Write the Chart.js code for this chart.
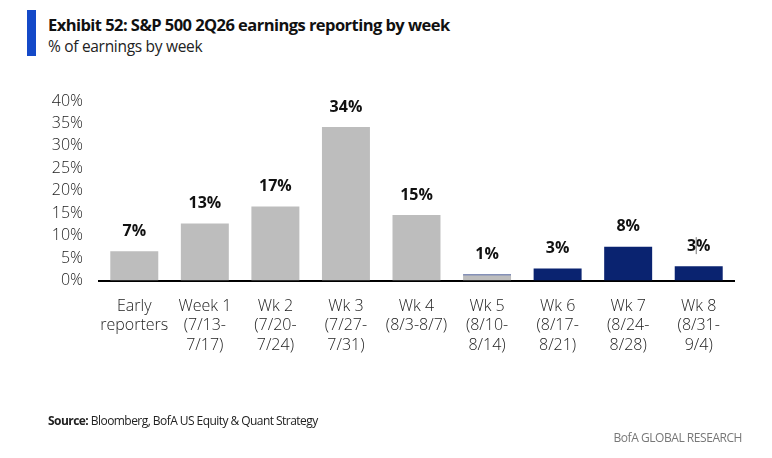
<!DOCTYPE html>
<html>
<head>
<meta charset="utf-8">
<script src="https://cdn.jsdelivr.net/npm/chart.js@4.4.0/dist/chart.umd.min.js"></script>
<style>
  html, body { margin: 0; padding: 0; background: #fff; }
  #wrap { position: relative; width: 772px; height: 458px; overflow: hidden; font-family: 'Open Sans', sans-serif; }
  #accent { position: absolute; left: 27px; top: 10px; width: 9px; height: 46px; background: #1449C8; }
  #title { position: absolute; left: 48px; top: 13px; font-size: 16.5px; font-weight: 700; color: #111; white-space: nowrap; letter-spacing: -0.55px; }
  #subtitle { position: absolute; left: 48px; top: 35px; font-size: 15.5px; font-weight: 400; color: #222; white-space: nowrap; letter-spacing: -0.3px; }
  #source { position: absolute; left: 48px; top: 412px; font-size: 12px; color: #222; white-space: nowrap; letter-spacing: -0.55px; }
  #source b { font-weight: 700; }
  #brand { position: absolute; right: 30px; top: 429px; font-size: 12px; color: #777; white-space: nowrap; letter-spacing: -0.45px; }
  #chart { position: absolute; left: 0; top: 0; }
</style>
</head>
<body>
<div id="wrap">
  <div id="accent"></div>
  <div id="title">Exhibit 52: S&amp;P 500 2Q26 earnings reporting by week</div>
  <div id="subtitle">% of earnings by week</div>
  <canvas id="chart" width="772" height="458"></canvas>
  <div id="source"><b>Source:</b> Bloomberg, BofA US Equity &amp; Quant Strategy</div>
  <div id="brand">BofA GLOBAL RESEARCH</div>
</div>
<script>
const categories = [
  ['Early', 'reporters'],
  ['Week 1', '(7/13-', '7/17)'],
  ['Wk 2', '(7/20-', '7/24)'],
  ['Wk 3', '(7/27-', '7/31)'],
  ['Wk 4', '(8/3-8/7)'],
  ['Wk 5', '(8/10-', '8/14)'],
  ['Wk 6', '(8/17-', '8/21)'],
  ['Wk 7', '(8/24-', '8/28)'],
  ['Wk 8', '(8/31-', '9/4)']
];
const reportedValues = [6.5, 12.7, 16.5, 34.2, 14.6, 1.1, 0, 0, 0];
const upcomingValues = [0, 0, 0, 0, 0, 0.25, 2.7, 7.5, 3.2];
const valueLabels = ['7%', '13%', '17%', '34%', '15%', '1%', '3%', '8%', '3%'];
const yTicks = [0, 5, 10, 15, 20, 25, 30, 35, 40];

const labelPlugin = {
  id: 'valueLabels',
  afterDatasetsDraw(chart) {
    const ctx = chart.ctx;
    const x = chart.scales.x, y = chart.scales.y;
    ctx.save();
    ctx.font = "700 16px 'Open Sans', sans-serif";
    ctx.fillStyle = '#111';
    ctx.textAlign = 'center';
    ctx.textBaseline = 'middle';
    valueLabels.forEach((t, i) => {
      const total = reportedValues[i] + upcomingValues[i];
      const px = x.getPixelForValue(i);
      const py = y.getPixelForValue(total) - 20;
      ctx.fillText(t, px, py);
      if (i === valueLabels.length - 1) {
        ctx.strokeStyle = '#777';
        ctx.lineWidth = 1;
        ctx.beginPath();
        ctx.moveTo(px - 2.5, py - 9);
        ctx.lineTo(px - 2.5, py + 8);
        ctx.stroke();
      }
    });
    ctx.restore();
  }
};

new Chart(document.getElementById('chart'), {
  type: 'bar',
  data: {
    labels: categories,
    datasets: [
      { data: reportedValues, backgroundColor: '#BDBDBD', stack: 's', barPercentage: 0.68, categoryPercentage: 1.0 },
      { data: upcomingValues, backgroundColor: '#0A2370', stack: 's', barPercentage: 0.68, categoryPercentage: 1.0 }
    ]
  },
  options: {
    responsive: false,
    animation: false,
    devicePixelRatio: 1,
    layout: { padding: { left: 0, right: 38, top: 101, bottom: 77.5 } },
    plugins: { legend: { display: false }, tooltip: { enabled: false }, title: { display: false } },
    scales: {
      x: {
        stacked: true,
        z: 1,
        grid: { display: false, drawTicks: false },
        border: { display: true, color: '#000', width: 2 },
        ticks: {
          color: '#222',
          font: { family: "'Open Sans', sans-serif", size: 16, weight: 300, lineHeight: 1.22 },
          padding: 16,
          maxRotation: 0,
          autoSkip: false
        },
        afterFit(s) { s.height = 100; }
      },
      y: {
        stacked: true,
        min: 0,
        max: 40,
        afterBuildTicks(s) { s.ticks = yTicks.map(v => ({ value: v })); },
        grid: { display: false, drawTicks: false },
        border: { display: false },
        ticks: {
          color: '#222',
          font: { family: "'Open Sans', sans-serif", size: 16, weight: 300 },
          padding: 16,
          callback: v => v + '%'
        },
        afterFit(s) { s.width = 99; }
      }
    }
  },
  plugins: [labelPlugin]
});
</script>
</body>
</html>
